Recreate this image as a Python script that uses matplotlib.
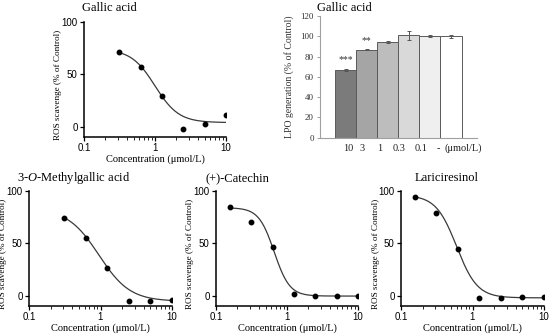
import matplotlib
matplotlib.use("Agg")
import matplotlib.pyplot as plt
import numpy as np

plt.rcParams["mathtext.fontset"] = "custom"
plt.rcParams["mathtext.rm"] = "Liberation Serif"
plt.rcParams["mathtext.it"] = "Liberation Serif:italic"

SERIF = "Liberation Serif"
SANS = "Liberation Sans"

# dose-response data (ROS scavenging, % of control)
conc_6 = [0.3125, 0.625, 1.25, 2.5, 5, 10]
conc_7 = [0.156, 0.3125, 0.625, 1.25, 2.5, 5, 10]

gallic_ros = [71, 57, 29.5, -2.5, 2.8, 11.4]
methylgallic_ros = [74, 55, 26.7, -5, -5, -4]
catechin_ros = [85, 70.7, 46.4, 1.3, -0.6, -0.3, -0.6]
lariciresinol_ros = [94.3, 78.5, 44.2, -2.5, -1.9, -1.2, -1.2]

# fitted 4PL parameters: top, bottom, IC50, hill
gallic_fit = [74, 3.8, 1.0, 2.6]
methylgallic_fit = [83, -5.5, 0.95, 2.0]
catechin_fit = [84, -0.5, 0.66, 4.0]
lariciresinol_fit = [96, -2.2, 0.6, 3.0]

# LPO generation bar chart
lpo_labels = ["10", "3", "1", "0.3", "0.1", "-"]
lpo_values = [67, 86.8, 94, 100.8, 100, 100]
lpo_errors = [1.2, 0.8, 0.9, 4.0, 0.9, 1.6]
lpo_stars = ["***", "**", "", "", "", ""]
lpo_colors = ["#7b7b7b", "#a5a5a5", "#bdbdbd", "#d9d9d9", "#efefef", "#ffffff"]

W, H = 550, 336
fig = plt.figure(figsize=(5.5, 3.36), dpi=100)


def px_axes(left, top, right, bottom):
    return fig.add_axes([left / W, 1 - bottom / H, (right - left) / W, (bottom - top) / H])


def four_pl(x, top, bottom, ic50, hill):
    return bottom + (top - bottom) / (1 + (x / ic50) ** hill)


def dose_panel(box, title, title_xy, conc, vals, fit):
    ax = px_axes(*box)
    xs = np.logspace(np.log10(conc[0]), 1, 200)
    ax.plot(xs, four_pl(xs, *fit), color="#3a3a3a", lw=0.9)
    ax.plot(conc, vals, "o", color="black", ms=3.2)
    ax.set_xscale("log")
    ax.set_xlim(0.1, 10)
    ax.set_ylim(-10, 100)
    ax.set_yticks([0, 50, 100])
    ax.set_xticks([0.1, 1, 10])
    ax.set_xticklabels(["0.1", "1", "10"])
    ax.tick_params(axis="y", which="minor", left=False)
    for s in ["top", "right"]:
        ax.spines[s].set_visible(False)
    for s in ["left", "bottom"]:
        ax.spines[s].set_linewidth(1.1)
    ax.tick_params(which="major", length=3, width=0.9, labelsize=7, pad=1.5)
    ax.tick_params(which="minor", length=1.8, width=0.6)
    for lab in ax.get_xticklabels() + ax.get_yticklabels():
        lab.set_fontfamily(SANS)
    ax.set_xlabel("Concentration (μmol/L)", fontfamily=SERIF, fontsize=7.5, labelpad=1)
    ax.set_ylabel("ROS scavenge (% of Control)", fontfamily=SERIF, fontsize=6.6)
    ax.yaxis.set_label_coords(-21.5 / (box[2] - box[0]), 0.45)
    fig.text(title_xy[0] / W, 1 - title_xy[1] / H, title, fontfamily=SERIF,
             fontsize=9, ha="left", va="center")
    return ax


dose_panel((84, 22, 226, 137), "Gallic acid", (82, 8), conc_6, gallic_ros, gallic_fit)
dose_panel((29, 191, 172, 306), "3-$\\it{O}$-Methylgallic acid", (17, 178),
           conc_6, methylgallic_ros, methylgallic_fit)
dose_panel((216, 191, 358, 306), "(+)-Catechin", (205, 178), conc_7, catechin_ros, catechin_fit)
dose_panel((401, 191, 544, 306), "Lariciresinol", (415, 178), conc_7,
           lariciresinol_ros, lariciresinol_fit)

# bar chart
axb = px_axes(320, 16, 477, 137.7)
x = np.arange(len(lpo_values))
axb.bar(x, lpo_values, width=1.0, color=lpo_colors, edgecolor="#5a5a5a", linewidth=0.7,
        yerr=lpo_errors, error_kw=dict(ecolor="#555555", elinewidth=0.7, capsize=1.5, capthick=0.7))
for xi, v, e, st in zip(x, lpo_values, lpo_errors, lpo_stars):
    if st:
        axb.text(xi, v + e + 4, st, ha="center", va="bottom", fontsize=7,
                 fontfamily=SERIF, color="#333333")
axb.set_xlim(-1.21, 6.23)
axb.set_ylim(0, 120)
axb.set_yticks(range(0, 121, 20))
axb.set_xticks([])
for s in ["top", "right"]:
    axb.spines[s].set_visible(False)
for s in ["left", "bottom"]:
    axb.spines[s].set_color("#a0a0a0")
    axb.spines[s].set_linewidth(0.8)
axb.tick_params(axis="y", length=2.5, width=0.7, color="#a0a0a0", labelsize=6.5, pad=2,
                labelcolor="#333333")
for lab in axb.get_yticklabels():
    lab.set_fontfamily(SERIF)
axb.set_ylabel("LPO generation (% of Control)", fontfamily=SERIF, fontsize=7,
               color="#333333")
axb.yaxis.set_label_coords(-26 / 157, 0.5)
label_pos = [0.14, 0.79, 1.63, 2.56, 3.6, 4.4, 5.6]
for xp, lab in zip(label_pos, lpo_labels + ["(μmol/L)"]):
    axb.text(xp, -10.5, lab, ha="center", va="center", fontsize=7.5,
             fontfamily=SERIF, color="#222222")
fig.text(317 / W, 1 - 8 / H, "Gallic acid", fontfamily=SERIF, fontsize=9,
         ha="left", va="center")

fig.savefig("out.png", dpi=100)
